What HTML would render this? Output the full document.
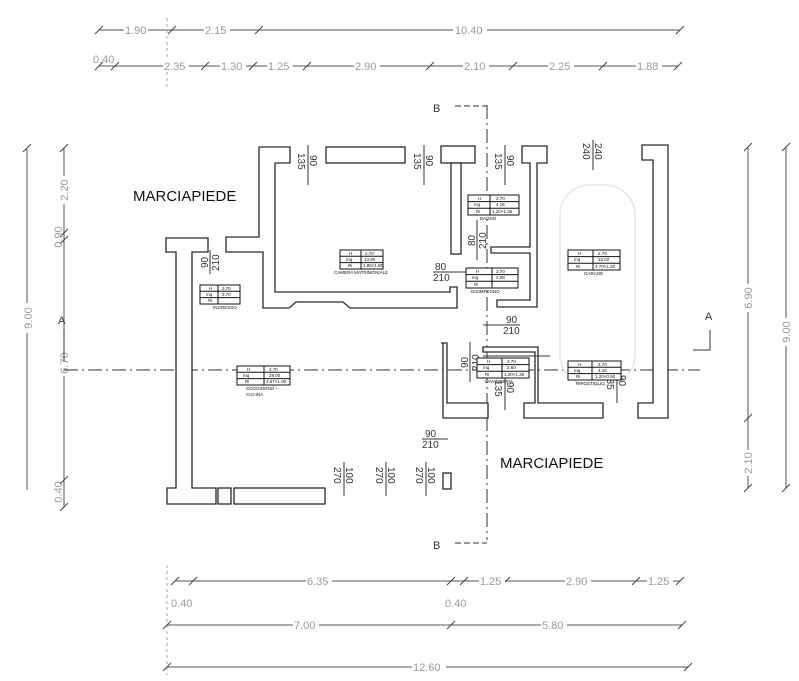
<!DOCTYPE html>
<html><head><meta charset="utf-8"><style>
html,body{margin:0;padding:0;background:#fff;}
svg{display:block;}
.w{fill:#fff;stroke:#2a2a2a;stroke-width:1.3;}
.d{stroke:#555;stroke-width:1;fill:none;}
.dt{font-family:"Liberation Sans",sans-serif;font-size:11px;fill:#9a9a9a;}
.dl{font-family:"Liberation Sans",sans-serif;font-size:11px;fill:#333;}
.tb{fill:#fff;stroke:#111;stroke-width:1;}
.tt{font-family:"Liberation Sans",sans-serif;font-size:4.5px;fill:#111;}
.ax{stroke:#333;stroke-width:1;stroke-dasharray:14 4 2 4;fill:none;}
</style></head><body>
<svg width="799" height="681" viewBox="0 0 799 681" xmlns="http://www.w3.org/2000/svg">
<defs>
<g id="tk"><line x1="-4" y1="4" x2="4" y2="-4" stroke="#444" stroke-width="1"/></g>
</defs>

<line class="d" x1="99" y1="30" x2="680" y2="30"/>
<use href="#tk" x="99" y="30"/><use href="#tk" x="172" y="30"/><use href="#tk" x="259" y="30"/><use href="#tk" x="680" y="30"/>
<rect x="124" y="24" width="24" height="12" fill="#fff"/><text class="dt" x="125" y="34">1.90</text>
<rect x="204" y="24" width="26" height="12" fill="#fff"/><text class="dt" x="205" y="34">2.15</text>
<rect x="453" y="24" width="34" height="12" fill="#fff"/><text class="dt" x="455" y="34">10.40</text>
<line x1="167" y1="18" x2="167" y2="90" stroke="#aaa" stroke-width="1" stroke-dasharray="3 3"/>

<line class="d" x1="99" y1="66" x2="678" y2="66"/>
<use href="#tk" x="99" y="66"/><use href="#tk" x="115" y="66"/><use href="#tk" x="205" y="66"/><use href="#tk" x="253" y="66"/><use href="#tk" x="307" y="66"/><use href="#tk" x="430" y="66"/><use href="#tk" x="513" y="66"/><use href="#tk" x="603" y="66"/><use href="#tk" x="678" y="66"/>
<text class="dt" x="93" y="63">0.40</text>
<rect x="163" y="60" width="26" height="12" fill="#fff"/><text class="dt" x="164" y="70">2.35</text>
<rect x="220" y="60" width="26" height="12" fill="#fff"/><text class="dt" x="221" y="70">1.30</text>
<rect x="267" y="60" width="26" height="12" fill="#fff"/><text class="dt" x="268" y="70">1.25</text>
<rect x="354" y="60" width="26" height="12" fill="#fff"/><text class="dt" x="355" y="70">2.90</text>
<rect x="463" y="60" width="26" height="12" fill="#fff"/><text class="dt" x="464" y="70">2.10</text>
<rect x="548" y="60" width="26" height="12" fill="#fff"/><text class="dt" x="549" y="70">2.25</text>
<rect x="636" y="60" width="26" height="12" fill="#fff"/><text class="dt" x="637" y="70">1.88</text>

<line class="d" x1="175" y1="581" x2="680" y2="581"/>
<use href="#tk" x="175" y="581"/><use href="#tk" x="193" y="581"/><use href="#tk" x="451" y="581"/><use href="#tk" x="464" y="581"/><use href="#tk" x="506" y="581"/><use href="#tk" x="636" y="581"/><use href="#tk" x="680" y="581"/>
<rect x="306" y="575" width="26" height="12" fill="#fff"/><text class="dt" x="307" y="585">6.35</text>
<rect x="479" y="575" width="26" height="12" fill="#fff"/><text class="dt" x="480" y="585">1.25</text>
<rect x="565" y="575" width="26" height="12" fill="#fff"/><text class="dt" x="566" y="585">2.90</text>
<rect x="647" y="575" width="26" height="12" fill="#fff"/><text class="dt" x="648" y="585">1.25</text>
<text class="dt" x="171" y="607">0.40</text>
<text class="dt" x="445" y="607">0.40</text>
<line x1="167" y1="565" x2="167" y2="675" stroke="#aaa" stroke-width="1" stroke-dasharray="3 3"/>

<line class="d" x1="167" y1="625" x2="682" y2="625"/>
<use href="#tk" x="167" y="625"/><use href="#tk" x="451" y="625"/><use href="#tk" x="682" y="625"/>
<rect x="293" y="619" width="26" height="12" fill="#fff"/><text class="dt" x="294" y="629">7.00</text>
<rect x="541" y="619" width="26" height="12" fill="#fff"/><text class="dt" x="542" y="629">5.80</text>

<line class="d" x1="167" y1="667" x2="688" y2="667"/>
<use href="#tk" x="167" y="667"/><use href="#tk" x="688" y="667"/>
<rect x="412" y="661" width="34" height="12" fill="#fff"/><text class="dt" x="413" y="671">12.60</text>

<line class="d" x1="27" y1="148" x2="27" y2="490"/>
<use href="#tk" x="27" y="148"/>
<rect x="21" y="303" width="12" height="30" fill="#fff"/><text class="dt" transform="translate(32,318) rotate(-90)" text-anchor="middle">9.00</text>
<line class="d" x1="64" y1="148" x2="64" y2="507"/>
<use href="#tk" x="64" y="148"/><use href="#tk" x="64" y="233"/><use href="#tk" x="64" y="240"/><use href="#tk" x="64" y="480"/><use href="#tk" x="64" y="507"/>
<rect x="58" y="176" width="12" height="28" fill="#fff"/><text class="dt" transform="translate(68,190) rotate(-90)" text-anchor="middle">2.20</text>
<text class="dt" transform="translate(62,237) rotate(-90)" text-anchor="middle">0.90</text>
<rect x="58" y="350" width="12" height="26" fill="#fff"/><text class="dt" transform="translate(68,363) rotate(-90)" text-anchor="middle">6.70</text>
<text class="dt" transform="translate(62,492) rotate(-90)" text-anchor="middle">0.40</text>
<text class="dl" x="58" y="324" font-size="14">A</text>
<line x1="64" y1="330" x2="64" y2="362" stroke="#333"/>

<line class="d" x1="748" y1="147" x2="748" y2="488"/>
<use href="#tk" x="748" y="147"/><use href="#tk" x="748" y="418"/><use href="#tk" x="748" y="488"/>
<rect x="742" y="284" width="12" height="28" fill="#fff"/><text class="dt" transform="translate(752,298) rotate(-90)" text-anchor="middle">6.90</text>
<rect x="742" y="450" width="12" height="26" fill="#fff"/><text class="dt" transform="translate(752,463) rotate(-90)" text-anchor="middle">2.10</text>
<line class="d" x1="786" y1="147" x2="786" y2="488"/>
<use href="#tk" x="786" y="147"/><use href="#tk" x="786" y="488"/>
<rect x="780" y="318" width="12" height="28" fill="#fff"/><text class="dt" transform="translate(790,332) rotate(-90)" text-anchor="middle">9.00</text>
<text class="dl" x="705" y="320" font-size="14">A</text>
<polyline points="710,330 710,350 693,350" fill="none" stroke="#333"/>

<line class="ax" x1="64" y1="370" x2="700" y2="370"/>
<line class="ax" x1="487" y1="105" x2="487" y2="540"/>
<line x1="455" y1="106" x2="487" y2="106" stroke="#333" stroke-dasharray="6 3"/>
<line x1="455" y1="543" x2="487" y2="543" stroke="#333" stroke-dasharray="6 3"/>
<text class="dl" x="433" y="112" font-size="14">B</text>
<text class="dl" x="433" y="549" font-size="14">B</text>

<rect x="560" y="185" width="75" height="200" rx="30" fill="none" stroke="#e6e6e6" stroke-width="1.5"/>

<polygon class="w" points="166,238 208,238 208,252 192,252 192,488 216,488 216,504 167,504 167,488 176,488 176,252 166,252"/>
<rect class="w" x="218" y="488" width="13" height="16"/>
<rect class="w" x="234" y="488" width="91" height="16"/>
<polygon class="w" points="259,147 290,147 290,163 275,163 275,292 450,292 450,287 457,287 457,308 350,308 343,302 296,302 289,308 263,308 263,252 226,252 226,237 259,237"/>
<rect class="w" x="326" y="147" width="79" height="16"/>
<rect class="w" x="441" y="146" width="34" height="17"/>
<rect class="w" x="451" y="163" width="10" height="91"/>
<polygon class="w" points="522,146 547,146 547,163 537,163 537,307 497,307 497,300 530,300 530,253 491,253 491,247 530,247 530,163 522,163"/>
<polygon class="w" points="642,145 668,145 668,418 638,418 638,403 653,403 653,160 642,160"/>
<polygon class="w" points="441,343 447,343 447,403 488,403 488,418 443,418 443,343"/>
<polygon class="w" points="483,347 538,347 538,403 603,403 603,418 524,418 524,403 535,403 535,352 483,352"/>
<rect class="w" x="443" y="473" width="8" height="16"/>

<g font-family="Liberation Sans,sans-serif" font-size="10" fill="#333">
<g transform="translate(308,165) rotate(90)"><line x1="-20" y1="0" x2="20" y2="0" stroke="#333"/><text x="-10" y="-2">90</text><text x="-12" y="10">135</text></g>
<g transform="translate(424,165) rotate(90)"><line x1="-20" y1="0" x2="20" y2="0" stroke="#333"/><text x="-10" y="-2">90</text><text x="-12" y="10">135</text></g>
<g transform="translate(505,165) rotate(90)"><line x1="-20" y1="0" x2="20" y2="0" stroke="#333"/><text x="-10" y="-2">90</text><text x="-12" y="10">135</text></g>
<g transform="translate(593,155) rotate(90)"><line x1="-15" y1="0" x2="15" y2="0" stroke="#333"/><text x="-12" y="-2">240</text><text x="-12" y="10">240</text></g>
<g transform="translate(210,262) rotate(-90)"><line x1="-12" y1="0" x2="12" y2="0" stroke="#333"/><text x="-6" y="-2">90</text><text x="-9" y="9">210</text></g>
<g transform="translate(477,240) rotate(-90)"><line x1="-20" y1="0" x2="20" y2="0" stroke="#333"/><text x="-6" y="-2">80</text><text x="-9" y="9">210</text></g>
<g transform="translate(470,362) rotate(-90)"><line x1="-20" y1="0" x2="20" y2="0" stroke="#333"/><text x="-6" y="-2">90</text><text x="-9" y="9">210</text></g>
<g transform="translate(505,392) rotate(90)"><line x1="-18" y1="0" x2="18" y2="0" stroke="#333"/><text x="-10" y="-2">90</text><text x="-12" y="10">135</text></g>
<g transform="translate(617,385) rotate(90)"><line x1="-18" y1="0" x2="18" y2="0" stroke="#333"/><text x="-10" y="-2">90</text><text x="-12" y="10">135</text></g>
<g transform="translate(344,479) rotate(90)"><line x1="-17" y1="0" x2="17" y2="0" stroke="#333"/><text x="-12" y="-2">100</text><text x="-12" y="10">270</text></g>
<g transform="translate(386,479) rotate(90)"><line x1="-17" y1="0" x2="17" y2="0" stroke="#333"/><text x="-12" y="-2">100</text><text x="-12" y="10">270</text></g>
<g transform="translate(426,479) rotate(90)"><line x1="-17" y1="0" x2="17" y2="0" stroke="#333"/><text x="-12" y="-2">100</text><text x="-12" y="10">270</text></g>
<text x="435" y="270">80</text><line x1="433" y1="272" x2="466" y2="272" stroke="#333"/><text x="433" y="281">210</text>
<text x="506" y="323">90</text><line x1="483" y1="325" x2="520" y2="325" stroke="#333"/><text x="503" y="334">210</text>
<text x="425" y="437">90</text><line x1="422" y1="439" x2="448" y2="439" stroke="#333"/><text x="422" y="448">210</text>
</g>
<line x1="483" y1="356" x2="550" y2="356" stroke="#333"/>

<g>
<g transform="translate(200,285)"><rect class="tb" x="0" y="0" width="40" height="19"/><line x1="0" y1="6.3" x2="40" y2="6.3" stroke="#111"/><line x1="0" y1="12.6" x2="40" y2="12.6" stroke="#111"/><line x1="18" y1="0" x2="18" y2="19" stroke="#111"/><text class="tt" x="9" y="5">H</text><text class="tt" x="22" y="5">2.70</text><text class="tt" x="6" y="11">mq</text><text class="tt" x="22" y="11">3.70</text><text class="tt" x="8" y="17">Ri</text><text class="tt" x="13" y="24">INGRESSO</text></g>
<g transform="translate(340,250)"><rect class="tb" x="0" y="0" width="43" height="19"/><line x1="0" y1="6.3" x2="43" y2="6.3" stroke="#111"/><line x1="0" y1="12.6" x2="43" y2="12.6" stroke="#111"/><line x1="21" y1="0" x2="21" y2="19" stroke="#111"/><text class="tt" x="9" y="5">H</text><text class="tt" x="25" y="5">2.70</text><text class="tt" x="6" y="11">mq</text><text class="tt" x="24" y="11">14.80</text><text class="tt" x="8" y="17">Ri</text><text class="tt" x="23" y="17">1.85×1.90</text><text class="tt" x="-6" y="24">CAMERA MATRIMONIALE</text></g>
<g transform="translate(468,195)"><rect class="tb" x="0" y="0" width="51" height="20"/><line x1="0" y1="6.6" x2="51" y2="6.6" stroke="#111"/><line x1="0" y1="13.2" x2="51" y2="13.2" stroke="#111"/><line x1="22" y1="0" x2="22" y2="20" stroke="#111"/><text class="tt" x="10" y="5">H</text><text class="tt" x="28" y="5">2.70</text><text class="tt" x="6" y="11">mq</text><text class="tt" x="28" y="11">4.16</text><text class="tt" x="8" y="18">Ri</text><text class="tt" x="24" y="18">1.20×1.36</text><text class="tt" x="12" y="25">BAGNO</text></g>
<g transform="translate(466,268)"><rect class="tb" x="0" y="0" width="52" height="20"/><line x1="0" y1="6.6" x2="52" y2="6.6" stroke="#111"/><line x1="0" y1="13.2" x2="52" y2="13.2" stroke="#111"/><line x1="26" y1="0" x2="26" y2="20" stroke="#111"/><text class="tt" x="10" y="5">H</text><text class="tt" x="30" y="5">2.70</text><text class="tt" x="6" y="11">mq</text><text class="tt" x="30" y="11">3.08</text><text class="tt" x="8" y="18">Ri</text><text class="tt" x="5" y="25">DISIMPEGNO</text></g>
<g transform="translate(568,250)"><rect class="tb" x="0" y="0" width="52" height="20"/><line x1="0" y1="6.6" x2="52" y2="6.6" stroke="#111"/><line x1="0" y1="13.2" x2="52" y2="13.2" stroke="#111"/><line x1="25" y1="0" x2="25" y2="20" stroke="#111"/><text class="tt" x="10" y="5">H</text><text class="tt" x="30" y="5">2.70</text><text class="tt" x="6" y="11">mq</text><text class="tt" x="30" y="11">15.02</text><text class="tt" x="8" y="18">Ri</text><text class="tt" x="27" y="18">2.70×1.20</text><text class="tt" x="16" y="25">GARAGE</text></g>
<g transform="translate(477,358)"><rect class="tb" x="0" y="0" width="52" height="20"/><line x1="0" y1="6.6" x2="52" y2="6.6" stroke="#111"/><line x1="0" y1="13.2" x2="52" y2="13.2" stroke="#111"/><line x1="25" y1="0" x2="25" y2="20" stroke="#111"/><text class="tt" x="10" y="5">H</text><text class="tt" x="30" y="5">2.70</text><text class="tt" x="6" y="11">mq</text><text class="tt" x="30" y="11">2.60</text><text class="tt" x="8" y="18">Ri</text><text class="tt" x="27" y="18">1.20×1.35</text><text class="tt" x="8" y="25">LAVANDERIA</text></g>
<g transform="translate(568,361)"><rect class="tb" x="0" y="0" width="53" height="19"/><line x1="0" y1="6.3" x2="53" y2="6.3" stroke="#111"/><line x1="0" y1="12.6" x2="53" y2="12.6" stroke="#111"/><line x1="24" y1="0" x2="24" y2="19" stroke="#111"/><text class="tt" x="10" y="5">H</text><text class="tt" x="30" y="5">2.70</text><text class="tt" x="6" y="11">mq</text><text class="tt" x="30" y="11">4.15</text><text class="tt" x="8" y="17">Ri</text><text class="tt" x="27" y="17">1.20×0.50</text><text class="tt" x="8" y="24">RIPOSTIGLIO</text></g>
<g transform="translate(237,366)"><rect class="tb" x="0" y="0" width="53" height="19"/><line x1="0" y1="6.3" x2="53" y2="6.3" stroke="#111"/><line x1="0" y1="12.6" x2="53" y2="12.6" stroke="#111"/><line x1="27" y1="0" x2="27" y2="19" stroke="#111"/><text class="tt" x="10" y="5">H</text><text class="tt" x="32" y="5">2.70</text><text class="tt" x="6" y="11">mq</text><text class="tt" x="32" y="11">28.00</text><text class="tt" x="8" y="17">Ri</text><text class="tt" x="29" y="17">3.57×1.00</text><text class="tt" x="9" y="24">SOGGIORNO +</text><text class="tt" x="9" y="30">CUCINA</text></g>
</g>

<text x="133" y="201" font-family="Liberation Sans,sans-serif" font-size="15" fill="#111">MARCIAPIEDE</text>
<text x="500" y="468" font-family="Liberation Sans,sans-serif" font-size="15" fill="#111">MARCIAPIEDE</text>
</svg>
</body></html>
